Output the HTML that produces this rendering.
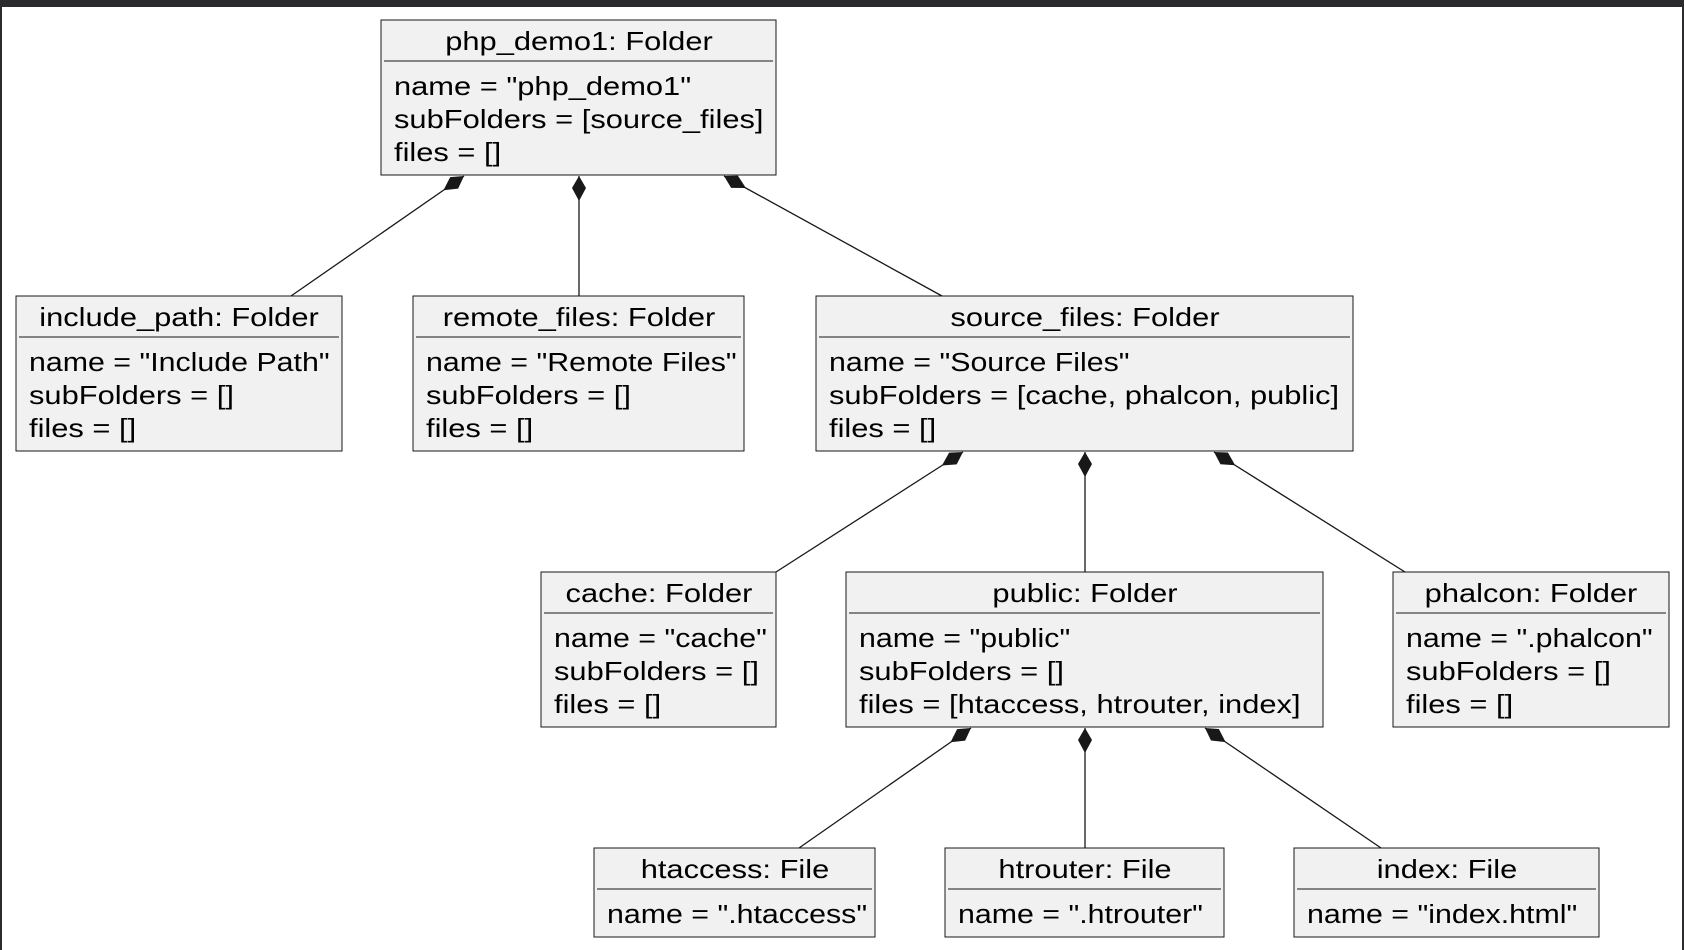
<!DOCTYPE html>
<html><head><meta charset="utf-8"><style>
html,body{margin:0;padding:0;background:#fff;}
svg{display:block;}
text{font-family:"Liberation Sans","DejaVu Sans",sans-serif;font-size:25.5px;fill:#000;}
</style></head><body>
<svg width="1684" height="950" viewBox="0 0 1684 950" xmlns="http://www.w3.org/2000/svg">
<defs>
<marker id="d" markerUnits="userSpaceOnUse" markerWidth="30" markerHeight="18" refX="0" refY="9" orient="auto" viewBox="0 0 30 18">
<path d="M0,9 L12,2 L25,9 L12,16 Z" fill="#181818"/>
</marker>
</defs>
<rect x="0" y="0" width="1684" height="950" fill="#fff"/>
<rect x="0" y="0" width="1684" height="7" fill="#2b2b2d"/>
<rect x="0" y="0" width="2" height="950" fill="#2b2b2d"/>
<rect x="1682" y="0" width="2" height="950" fill="#2b2b2d"/>

<g stroke="#181818" stroke-width="1.3" fill="none">
<line x1="464" y1="176" x2="291" y2="296" marker-start="url(#d)"/>
<line x1="579" y1="176" x2="579" y2="296" marker-start="url(#d)"/>
<line x1="724" y1="176" x2="942" y2="296" marker-start="url(#d)"/>
<line x1="963" y1="452" x2="776" y2="572" marker-start="url(#d)"/>
<line x1="1085" y1="452" x2="1085" y2="572" marker-start="url(#d)"/>
<line x1="1214" y1="452" x2="1405" y2="572" marker-start="url(#d)"/>
<line x1="971" y1="728" x2="799" y2="848" marker-start="url(#d)"/>
<line x1="1085" y1="728" x2="1085" y2="848" marker-start="url(#d)"/>
<line x1="1205" y1="728" x2="1381" y2="848" marker-start="url(#d)"/>
</g>

<g fill="#f1f1f1" stroke="#181818" stroke-width="1">
<rect x="381" y="20" width="395" height="155"/>
<rect x="16" y="296" width="326" height="155"/>
<rect x="413" y="296" width="331" height="155"/>
<rect x="816" y="296" width="537" height="155"/>
<rect x="541" y="572" width="235" height="155"/>
<rect x="846" y="572" width="477" height="155"/>
<rect x="1393" y="572" width="276" height="155"/>
<rect x="594" y="848" width="281" height="89"/>
<rect x="945" y="848" width="279" height="89"/>
<rect x="1294" y="848" width="305" height="89"/>
</g>
<g stroke="#181818" stroke-width="1">
<line x1="384" y1="61" x2="773" y2="61"/>
<line x1="19" y1="337" x2="339" y2="337"/>
<line x1="416" y1="337" x2="741" y2="337"/>
<line x1="819" y1="337" x2="1350" y2="337"/>
<line x1="544" y1="613" x2="773" y2="613"/>
<line x1="849" y1="613" x2="1320" y2="613"/>
<line x1="1396" y1="613" x2="1666" y2="613"/>
<line x1="597" y1="889" x2="872" y2="889"/>
<line x1="948" y1="889" x2="1221" y2="889"/>
<line x1="1297" y1="889" x2="1596" y2="889"/>
</g>

<g text-anchor="middle">
<g transform="translate(579,50) scale(1.21,1)"><text>php_demo1: Folder</text></g>
<g transform="translate(179,326) scale(1.21,1)"><text>include_path: Folder</text></g>
<g transform="translate(579,326) scale(1.21,1)"><text>remote_files: Folder</text></g>
<g transform="translate(1085,326) scale(1.21,1)"><text>source_files: Folder</text></g>
<g transform="translate(659,602) scale(1.21,1)"><text>cache: Folder</text></g>
<g transform="translate(1085,602) scale(1.21,1)"><text>public: Folder</text></g>
<g transform="translate(1531,602) scale(1.21,1)"><text>phalcon: Folder</text></g>
<g transform="translate(735,878) scale(1.21,1)"><text>htaccess: File</text></g>
<g transform="translate(1085,878) scale(1.21,1)"><text>htrouter: File</text></g>
<g transform="translate(1447,878) scale(1.21,1)"><text>index: File</text></g>
</g>

<g transform="translate(394,95) scale(1.21,1)"><text>name = "php_demo1"</text></g>
<g transform="translate(394,128) scale(1.21,1)"><text>subFolders = [source_files]</text></g>
<g transform="translate(394,161) scale(1.21,1)"><text>files = []</text></g>

<g transform="translate(29,371) scale(1.19,1)"><text>name = "Include Path"</text></g>
<g transform="translate(29,404) scale(1.21,1)"><text>subFolders = []</text></g>
<g transform="translate(29,437) scale(1.21,1)"><text>files = []</text></g>

<g transform="translate(426,371) scale(1.19,1)"><text>name = "Remote Files"</text></g>
<g transform="translate(426,404) scale(1.21,1)"><text>subFolders = []</text></g>
<g transform="translate(426,437) scale(1.21,1)"><text>files = []</text></g>

<g transform="translate(829,371) scale(1.19,1)"><text>name = "Source Files"</text></g>
<g transform="translate(829,404) scale(1.21,1)"><text>subFolders = [cache, phalcon, public]</text></g>
<g transform="translate(829,437) scale(1.21,1)"><text>files = []</text></g>

<g transform="translate(554,647) scale(1.19,1)"><text>name = "cache"</text></g>
<g transform="translate(554,680) scale(1.21,1)"><text>subFolders = []</text></g>
<g transform="translate(554,713) scale(1.21,1)"><text>files = []</text></g>

<g transform="translate(859,647) scale(1.19,1)"><text>name = "public"</text></g>
<g transform="translate(859,680) scale(1.21,1)"><text>subFolders = []</text></g>
<g transform="translate(859,713) scale(1.21,1)"><text>files = [htaccess, htrouter, index]</text></g>

<g transform="translate(1406,647) scale(1.19,1)"><text>name = ".phalcon"</text></g>
<g transform="translate(1406,680) scale(1.21,1)"><text>subFolders = []</text></g>
<g transform="translate(1406,713) scale(1.21,1)"><text>files = []</text></g>

<g transform="translate(607,923) scale(1.19,1)"><text>name = ".htaccess"</text></g>
<g transform="translate(958,923) scale(1.19,1)"><text>name = ".htrouter"</text></g>
<g transform="translate(1307,923) scale(1.19,1)"><text>name = "index.html"</text></g>
</svg>
</body></html>
